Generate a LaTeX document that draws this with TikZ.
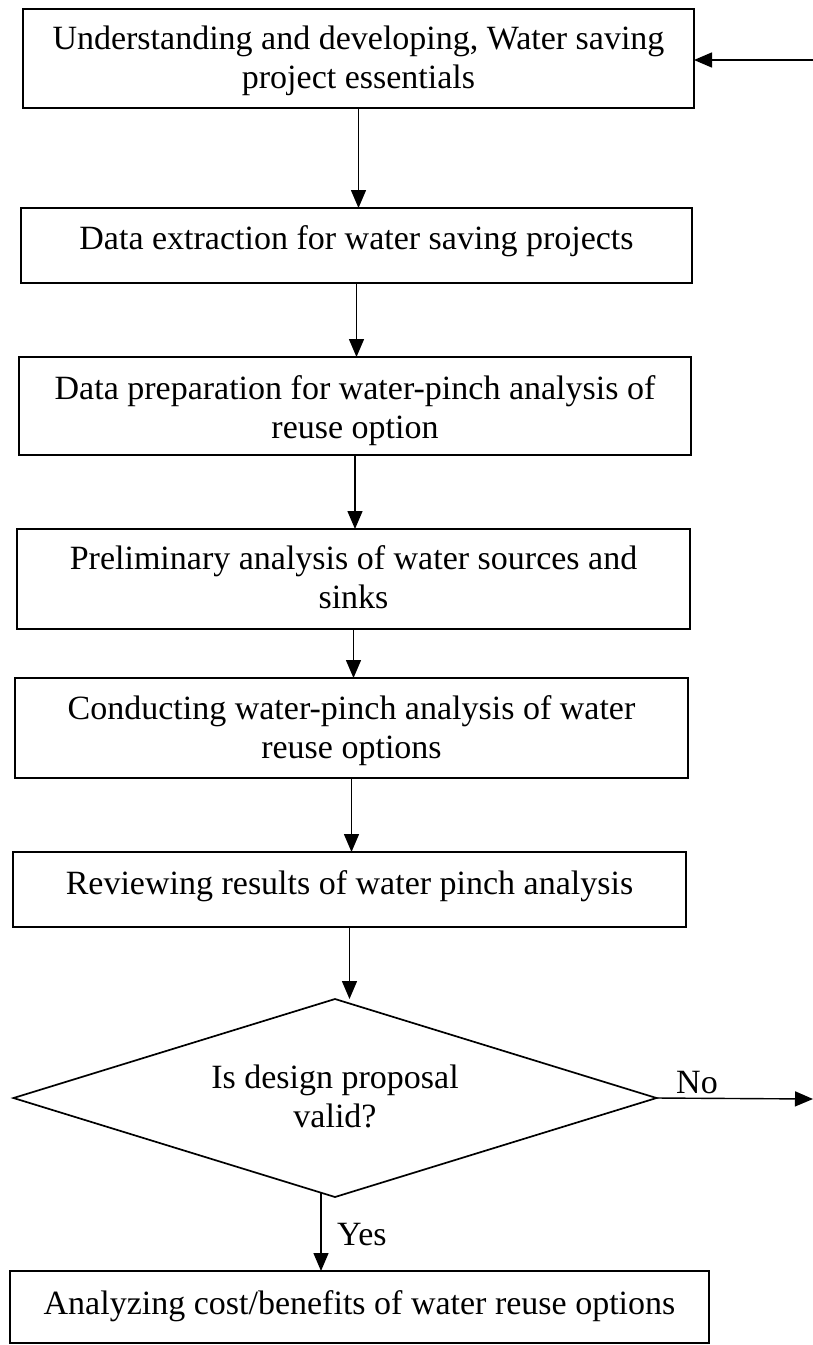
\documentclass[tikz,border=0pt]{standalone}
\usepackage{fontspec}
\setmainfont{Liberation Serif}
\usetikzlibrary{arrows.meta,shapes.geometric}
\begin{document}
\begin{tikzpicture}[x=1pt,y=-1pt,
  box/.style={draw, line width=1.7pt, rectangle, inner sep=0pt, outer sep=0pt, anchor=north west},
  txt/.style={inner sep=0pt, anchor=base, font=\fontsize{34}{39}\selectfont},
  lbl/.style={inner sep=0pt, anchor=base west, font=\fontsize{34}{39}\selectfont},
  arr/.style={line width=1.4pt, -{Triangle[length=18pt,width=15pt]}}]
\useasboundingbox (0,0) rectangle (813,1345);
% boxes
\node[box, minimum width=671pt, minimum height=99pt]  (b1) at (23,9) {};
\node[box, minimum width=671pt, minimum height=75pt]  (b2) at (21,208) {};
\node[box, minimum width=672pt, minimum height=98pt]  (b3) at (19,357) {};
\node[box, minimum width=673pt, minimum height=100pt] (b4) at (17,529) {};
\node[box, minimum width=673pt, minimum height=100pt] (b5) at (15,678) {};
\node[box, minimum width=673pt, minimum height=75pt]  (b6) at (13,852) {};
\node[box, minimum width=699pt, minimum height=72pt]  (b7) at (10,1271) {};
% texts
\node[txt] (t1) at (358.5,49) {\begin{tabular}[t]{@{}c@{}}Understanding and developing, Water saving\\project essentials\end{tabular}};
\node[txt] (t2) at (356.5,249) {Data extraction for water saving projects};
\node[txt] (t3) at (355,399) {\begin{tabular}[t]{@{}c@{}}Data preparation for water-pinch analysis of\\reuse option\end{tabular}};
\node[txt] (t4) at (353.5,569) {\begin{tabular}[t]{@{}c@{}}Preliminary analysis of water sources and\\sinks\end{tabular}};
\node[txt] (t5) at (351.5,719) {\begin{tabular}[t]{@{}c@{}}Conducting water-pinch analysis of water\\reuse options\end{tabular}};
\node[txt] (t6) at (349.5,894) {Reviewing results of water pinch analysis};
\node[txt] (t7) at (359.5,1314) {Analyzing cost/benefits of water reuse options};
% decision
\node[diamond, draw, line width=1.7pt, minimum width=643pt, minimum height=198pt, inner sep=0pt, outer sep=0pt, aspect=3.25] (d) at (335,1098) {};
\node[txt] (dt) at (335,1088) {\begin{tabular}[t]{@{}c@{}}Is design proposal\\valid?\end{tabular}};
% connectors
\coordinate (inR) at (813,60);
\draw[arr] (inR) -- (inR -| b1.east);
\draw[arr] (b1.south) -- (b1.south |- b2.north);
\draw[arr] (b2.south) -- (b2.south |- b3.north);
\draw[arr] (b3.south) -- (b3.south |- b4.north);
\draw[arr] (b4.south) -- (b4.south |- b5.north);
\draw[arr] (b5.south) -- (b5.south |- b6.north);
\draw[arr] (b6.south) -- (b6.south |- d.north);
\coordinate (noEnd) at (813,1099);
\draw[arr] (d.east) -- (noEnd);
\node[lbl] (no) at (676,1093) {No};
\coordinate (ys) at (321,1193);
\draw[arr] (ys) -- (ys |- b7.north);
\node[lbl] (yes) at (337,1245) {Yes};
\end{tikzpicture}
\end{document}
